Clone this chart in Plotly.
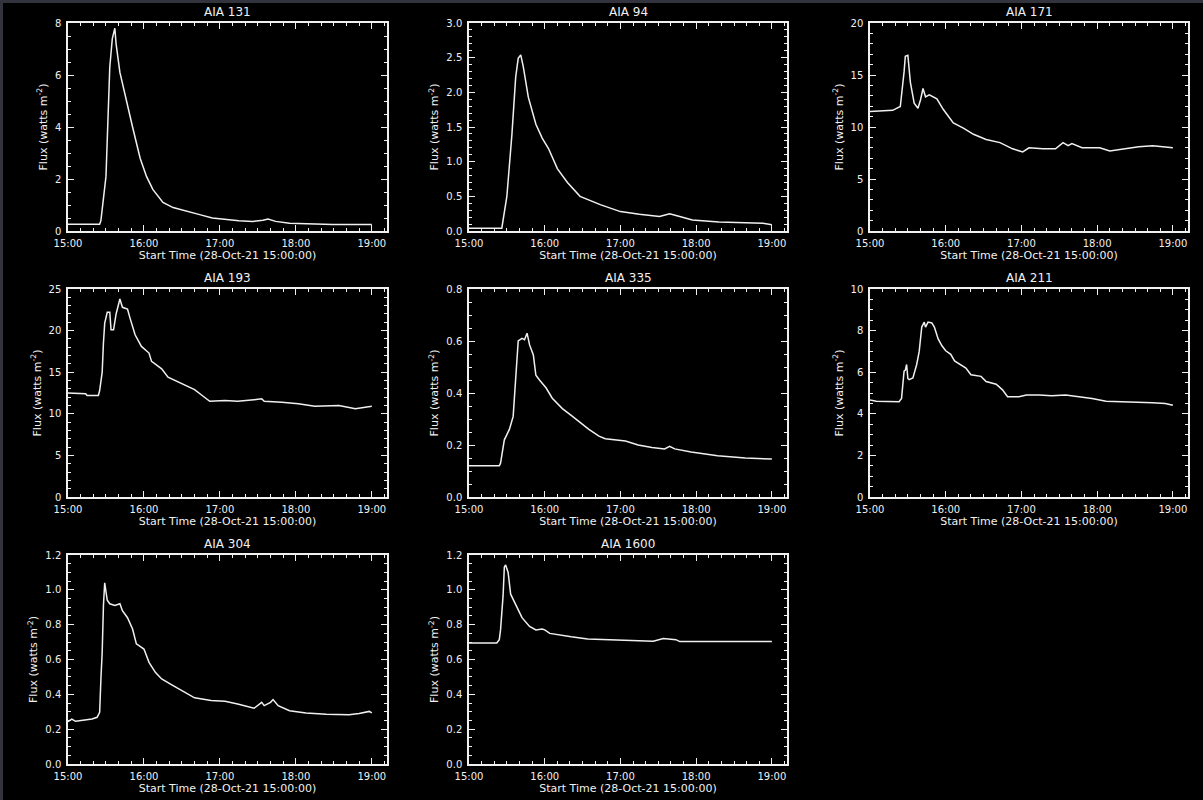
import plotly.graph_objects as go

DAY = "2021-10-28 "
titles = ["AIA 131", "AIA 94", "AIA 171", "AIA 193", "AIA 335", "AIA 211", "AIA 304", "AIA 1600"]

t_131 = ["15:00","15:25","15:26","15:30","15:33","15:35","15:37","15:38","15:41","15:46","15:51","15:57","16:02","16:07","16:15","16:23","16:33","16:44","16:54","17:05","17:15","17:26","17:34","17:38","17:44","17:55","18:16","18:29","19:00"]
f_131 = [0.26,0.26,0.4,2.1,6.3,7.4,7.8,7.2,6.1,5.0,4.0,2.8,2.1,1.6,1.1,0.9,0.76,0.63,0.5,0.43,0.39,0.37,0.41,0.46,0.37,0.3,0.27,0.25,0.25]

t_94 = ["15:00","15:26","15:30","15:34","15:37","15:39","15:41","15:43","15:47","15:53","15:58","16:03","16:10","16:18","16:28","16:44","17:00","17:15","17:31","17:39","17:47","17:57","18:18","18:53","19:00"]
f_94 = [0.04,0.04,0.5,1.39,2.22,2.49,2.54,2.37,1.93,1.54,1.34,1.19,0.9,0.7,0.5,0.38,0.28,0.24,0.21,0.25,0.21,0.16,0.13,0.11,0.09]

t_171 = ["15:00","15:18","15:24","15:25","15:27","15:28","15:30","15:32","15:35","15:38","15:40","15:42","15:44","15:47","15:53","15:58","16:06","16:14","16:22","16:32","16:43","16:53","17:01","17:06","17:17","17:27","17:33","17:37","17:40","17:48","18:02","18:10","18:20","18:33","18:44","19:00"]
f_171 = [11.5,11.6,11.97,13.0,15.3,16.8,16.9,14.3,12.3,11.8,12.6,13.7,12.9,13.1,12.7,11.7,10.4,9.9,9.3,8.8,8.5,7.9,7.6,8.0,7.9,7.9,8.5,8.2,8.4,8.0,8.0,7.7,7.9,8.1,8.2,8.0]

t_193 = ["15:00","15:14","15:15","15:24","15:25","15:27","15:28","15:29","15:31","15:33","15:34","15:36","15:38","15:40","15:41","15:43","15:47","15:49","15:53","15:58","16:04","16:06","16:14","16:19","16:27","16:33","16:40","16:46","16:52","17:04","17:14","17:27","17:33","17:35","17:49","18:02","18:15","18:34","18:47","19:00"]
f_193 = [12.5,12.4,12.2,12.2,12.8,15.0,18.5,20.9,22.2,22.2,20.1,20.1,22.0,23.0,23.8,22.8,22.6,21.5,19.5,18.1,17.3,16.3,15.4,14.4,13.8,13.4,12.9,12.2,11.5,11.6,11.5,11.7,11.8,11.5,11.4,11.2,10.9,11.0,10.6,10.9]

t_335 = ["15:00","15:24","15:25","15:28","15:30","15:32","15:35","15:37","15:39","15:42","15:44","15:46","15:48","15:51","15:53","15:56","16:01","16:06","16:14","16:22","16:27","16:35","16:43","16:48","17:04","17:14","17:25","17:35","17:39","17:43","17:56","18:07","18:17","18:39","19:00"]
f_335 = [0.12,0.12,0.13,0.22,0.24,0.26,0.31,0.48,0.60,0.61,0.605,0.63,0.585,0.546,0.468,0.449,0.42,0.38,0.34,0.31,0.29,0.26,0.234,0.224,0.215,0.2,0.19,0.185,0.195,0.185,0.173,0.166,0.159,0.15,0.146]

t_211 = ["15:00","15:05","15:23","15:25","15:27","15:28","15:29","15:30","15:31","15:34","15:37","15:39","15:41","15:43","15:44","15:46","15:49","15:51","15:54","15:57","16:00","16:04","16:07","16:11","16:16","16:20","16:28","16:32","16:40","16:45","16:49","16:58","17:04","17:14","17:24","17:35","17:48","17:56","18:07","18:28","18:44","18:54","19:00"]
f_211 = [4.66,4.6,4.58,4.74,6.05,6.1,6.37,5.7,5.64,5.72,6.37,7.0,8.17,8.41,8.17,8.41,8.37,8.17,7.6,7.27,7.03,6.86,6.54,6.37,6.2,5.88,5.8,5.55,5.42,5.15,4.82,4.82,4.9,4.9,4.87,4.9,4.82,4.74,4.6,4.58,4.53,4.49,4.41]

t_304 = ["15:00","15:03","15:06","15:19","15:23","15:25","15:26","15:27","15:28","15:29","15:31","15:33","15:37","15:41","15:43","15:47","15:51","15:54","16:00","16:04","16:09","16:14","16:22","16:30","16:40","16:53","17:04","17:14","17:25","17:27","17:33","17:35","17:40","17:42","17:46","17:55","18:08","18:24","18:42","18:50","18:58","19:00"]
f_304 = [0.243,0.258,0.245,0.258,0.268,0.297,0.488,0.64,0.91,1.04,0.94,0.92,0.91,0.92,0.88,0.84,0.775,0.69,0.66,0.584,0.526,0.488,0.454,0.42,0.38,0.364,0.36,0.345,0.325,0.32,0.354,0.335,0.354,0.37,0.335,0.306,0.293,0.285,0.283,0.29,0.302,0.293]

t_1600 = ["15:00","15:22","15:24","15:25","15:27","15:28","15:29","15:31","15:33","15:37","15:42","15:48","15:53","15:58","16:00","16:04","16:11","16:21","16:34","16:55","17:08","17:26","17:34","17:44","17:47","18:15","19:00"]
f_1600 = [0.695,0.695,0.714,0.77,0.965,1.13,1.143,1.10,0.975,0.917,0.84,0.79,0.77,0.775,0.77,0.75,0.74,0.73,0.718,0.714,0.71,0.705,0.72,0.714,0.703,0.703,0.703]

times = [t_131, t_94, t_171, t_193, t_335, t_211, t_304, t_1600]
fluxes = [f_131, f_94, f_171, f_193, f_335, f_211, f_304, f_1600]

y_max = [8, 3.0, 20, 25, 0.8, 10, 1.2, 1.2]
y_major = [2, 0.5, 5, 5, 0.2, 2, 0.2, 0.2]
y_minor = [0.5, 0.1, 1, 1, 0.05, 0.5, 0.05, 0.05]
y_fmt = ["d", ".1f", "d", "d", ".1f", "d", ".1f", ".1f"]

W, H = 1203, 800
col_px = [(68, 387), (469, 787), (870, 1188)]
row_px = [(23, 231), (289, 497), (555, 764)]

FONT = "DejaVu Sans"
WHITE = "#f0f0f0"

fig = go.Figure()
annotations = []
for i in range(8):
    r, c = divmod(i, 3)
    xa = "x" if i == 0 else f"x{i+1}"
    ya = "y" if i == 0 else f"y{i+1}"
    fig.add_trace(go.Scatter(
        x=[DAY + t for t in times[i]], y=fluxes[i], mode="lines",
        line=dict(color=WHITE, width=1.5), xaxis=xa, yaxis=ya, showlegend=False,
        hoverinfo="x+y"))
    x0, x1 = col_px[c]
    y0, y1 = row_px[r]
    xd = [x0 / W, x1 / W]
    yd = [1 - y1 / H, 1 - y0 / H]
    common = dict(showline=True, linecolor=WHITE, linewidth=1.5, mirror="allticks",
                  ticks="inside", ticklen=6, tickwidth=1.2, tickcolor=WHITE,
                  showgrid=False, zeroline=False, automargin=False,
                  tickfont=dict(family=FONT, size=10, color=WHITE))
    xkey = "xaxis" if i == 0 else f"xaxis{i+1}"
    ykey = "yaxis" if i == 0 else f"yaxis{i+1}"
    fig.layout[xkey] = dict(
        common, domain=xd, anchor=ya, type="date",
        range=[DAY + "15:00", DAY + "19:12"], dtick=3600000,
        tick0=DAY + "15:00", tickformat="%H:%M", ticklabelstandoff=2,
        minor=dict(dtick=600000, ticks="inside", ticklen=3.5, tickcolor=WHITE, tickwidth=1.2),
        title=dict(text="Start Time (28-Oct-21 15:00:00)", standoff=0,
                   font=dict(family=FONT, size=11, color=WHITE)))
    fig.layout[ykey] = dict(
        common, domain=yd, anchor=xa, range=[0, y_max[i]], dtick=y_major[i], tick0=0,
        tickformat=y_fmt[i], ticklabelstandoff=3,
        minor=dict(dtick=y_minor[i], ticks="inside", ticklen=3.5, tickcolor=WHITE, tickwidth=1.2),
        title=dict(text="Flux (watts m<sup>-2</sup>)", standoff=5,
                   font=dict(family=FONT, size=11, color=WHITE)))
    annotations.append(dict(text=titles[i], xref="paper", yref="paper",
                            x=(x0 + x1) / 2 / W, y=1 - (y0 - 11) / H,
                            xanchor="center", yanchor="middle", showarrow=False,
                            font=dict(family=FONT, size=12, color=WHITE)))

fig.update_layout(
    width=W, height=H, margin=dict(l=0, r=0, t=0, b=0),
    paper_bgcolor="#33333e", plot_bgcolor="rgba(0,0,0,0)",
    annotations=annotations,
    shapes=[dict(type="rect", xref="paper", yref="paper", x0=3 / W, x1=1, y0=0, y1=1 - 3 / H,
                 fillcolor="black", line=dict(width=0), layer="below")],
)

fig.write_html("out.html", config={"displayModeBar": False},
               post_script="document.body.style.margin='0';document.body.style.overflow='hidden';")
